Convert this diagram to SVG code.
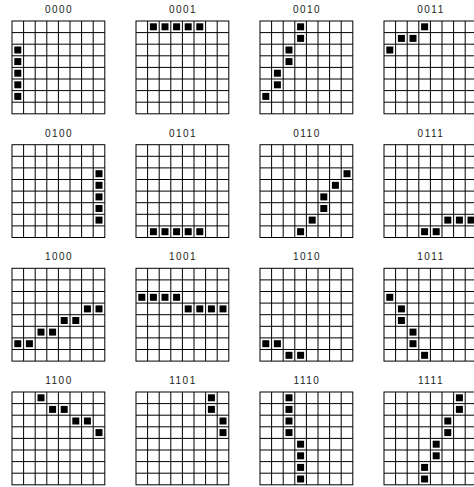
<svg xmlns="http://www.w3.org/2000/svg" xmlns:xlink="http://www.w3.org/1999/xlink" width="474" height="487" viewBox="0 0 474 487">
<style>
.grid{fill:#fff;stroke:#000;stroke-width:1}
.lbl{font-family:"Liberation Sans",Arial,Helvetica,sans-serif;font-size:10px;font-weight:normal;letter-spacing:1.5px;text-anchor:middle;fill:#222}
.sq{fill:#000}
</style>
<defs>
<g id="grid">
<rect class="grid" x="0" y="0" width="92.8" height="92.8"/>
<path class="grid" fill="none" d="M0 11.6H92.8M0 23.2H92.8M0 34.8H92.8M0 46.4H92.8M0 58H92.8M0 69.6H92.8M0 81.2H92.8M11.6 0V92.8M23.2 0V92.8M34.8 0V92.8M46.4 0V92.8M58 0V92.8M69.6 0V92.8M81.2 0V92.8"/>
</g>
<rect id="sq" class="sq" width="7" height="7"/>
</defs>
<rect width="474" height="487" fill="#fff"/>

<g id="n0000" transform="translate(12,21)">
<text class="lbl" x="47" y="-8">0000</text><use href="#grid"/>
<use href="#sq" x="2.3" y="25.5"/><use href="#sq" x="2.3" y="37.1"/><use href="#sq" x="2.3" y="48.7"/><use href="#sq" x="2.3" y="60.3"/><use href="#sq" x="2.3" y="71.9"/>
</g>
<g id="n0001" transform="translate(136,21)">
<text class="lbl" x="47" y="-8">0001</text><use href="#grid"/>
<use href="#sq" x="13.9" y="2.3"/><use href="#sq" x="25.5" y="2.3"/><use href="#sq" x="37.1" y="2.3"/><use href="#sq" x="48.7" y="2.3"/><use href="#sq" x="60.3" y="2.3"/>
</g>
<g id="n0010" transform="translate(260,21)">
<text class="lbl" x="47" y="-8">0010</text><use href="#grid"/>
<use href="#sq" x="37.1" y="2.3"/><use href="#sq" x="37.1" y="13.9"/><use href="#sq" x="25.5" y="25.5"/><use href="#sq" x="25.5" y="37.1"/><use href="#sq" x="13.9" y="48.7"/><use href="#sq" x="13.9" y="60.3"/><use href="#sq" x="2.3" y="71.9"/>
</g>
<g id="n0011" transform="translate(384,21)">
<text class="lbl" x="47" y="-8">0011</text><use href="#grid"/>
<use href="#sq" x="37.1" y="2.3"/><use href="#sq" x="13.9" y="13.9"/><use href="#sq" x="25.5" y="13.9"/><use href="#sq" x="2.3" y="25.5"/>
</g>

<g id="n0100" transform="translate(12,144.7)">
<text class="lbl" x="47" y="-8">0100</text><use href="#grid"/>
<use href="#sq" x="83.5" y="25.5"/><use href="#sq" x="83.5" y="37.1"/><use href="#sq" x="83.5" y="48.7"/><use href="#sq" x="83.5" y="60.3"/><use href="#sq" x="83.5" y="71.9"/>
</g>
<g id="n0101" transform="translate(136,144.7)">
<text class="lbl" x="47" y="-8">0101</text><use href="#grid"/>
<use href="#sq" x="13.9" y="83.5"/><use href="#sq" x="25.5" y="83.5"/><use href="#sq" x="37.1" y="83.5"/><use href="#sq" x="48.7" y="83.5"/><use href="#sq" x="60.3" y="83.5"/>
</g>
<g id="n0110" transform="translate(260,144.7)">
<text class="lbl" x="47" y="-8">0110</text><use href="#grid"/>
<use href="#sq" x="83.5" y="25.5"/><use href="#sq" x="71.9" y="37.1"/><use href="#sq" x="60.3" y="48.7"/><use href="#sq" x="60.3" y="60.3"/><use href="#sq" x="48.7" y="71.9"/><use href="#sq" x="37.1" y="83.5"/>
</g>
<g id="n0111" transform="translate(384,144.7)">
<text class="lbl" x="47" y="-8">0111</text><use href="#grid"/>
<use href="#sq" x="37.1" y="83.5"/><use href="#sq" x="48.7" y="83.5"/><use href="#sq" x="60.3" y="71.9"/><use href="#sq" x="71.9" y="71.9"/><use href="#sq" x="83.5" y="71.9"/>
</g>

<g id="n1000" transform="translate(12,268.3)">
<text class="lbl" x="47" y="-8">1000</text><use href="#grid"/>
<use href="#sq" x="2.3" y="71.9"/><use href="#sq" x="13.9" y="71.9"/><use href="#sq" x="25.5" y="60.3"/><use href="#sq" x="37.1" y="60.3"/><use href="#sq" x="48.7" y="48.7"/><use href="#sq" x="60.3" y="48.7"/><use href="#sq" x="71.9" y="37.1"/><use href="#sq" x="83.5" y="37.1"/>
</g>
<g id="n1001" transform="translate(136,268.3)">
<text class="lbl" x="47" y="-8">1001</text><use href="#grid"/>
<use href="#sq" x="2.3" y="25.5"/><use href="#sq" x="13.9" y="25.5"/><use href="#sq" x="25.5" y="25.5"/><use href="#sq" x="37.1" y="25.5"/><use href="#sq" x="48.7" y="37.1"/><use href="#sq" x="60.3" y="37.1"/><use href="#sq" x="71.9" y="37.1"/><use href="#sq" x="83.5" y="37.1"/>
</g>
<g id="n1010" transform="translate(260,268.3)">
<text class="lbl" x="47" y="-8">1010</text><use href="#grid"/>
<use href="#sq" x="2.3" y="71.9"/><use href="#sq" x="13.9" y="71.9"/><use href="#sq" x="25.5" y="83.5"/><use href="#sq" x="37.1" y="83.5"/>
</g>
<g id="n1011" transform="translate(384,268.3)">
<text class="lbl" x="47" y="-8">1011</text><use href="#grid"/>
<use href="#sq" x="2.3" y="25.5"/><use href="#sq" x="13.9" y="37.1"/><use href="#sq" x="13.9" y="48.7"/><use href="#sq" x="25.5" y="60.3"/><use href="#sq" x="25.5" y="71.9"/><use href="#sq" x="37.1" y="83.5"/>
</g>

<g id="n1100" transform="translate(12,392)">
<text class="lbl" x="47" y="-8">1100</text><use href="#grid"/>
<use href="#sq" x="25.5" y="2.3"/><use href="#sq" x="37.1" y="13.9"/><use href="#sq" x="48.7" y="13.9"/><use href="#sq" x="60.3" y="25.5"/><use href="#sq" x="71.9" y="25.5"/><use href="#sq" x="83.5" y="37.1"/>
</g>
<g id="n1101" transform="translate(136,392)">
<text class="lbl" x="47" y="-8">1101</text><use href="#grid"/>
<use href="#sq" x="71.9" y="2.3"/><use href="#sq" x="71.9" y="13.9"/><use href="#sq" x="83.5" y="25.5"/><use href="#sq" x="83.5" y="37.1"/>
</g>
<g id="n1110" transform="translate(260,392)">
<text class="lbl" x="47" y="-8">1110</text><use href="#grid"/>
<use href="#sq" x="25.5" y="2.3"/><use href="#sq" x="25.5" y="13.9"/><use href="#sq" x="25.5" y="25.5"/><use href="#sq" x="25.5" y="37.1"/><use href="#sq" x="37.1" y="48.7"/><use href="#sq" x="37.1" y="60.3"/><use href="#sq" x="37.1" y="71.9"/><use href="#sq" x="37.1" y="83.5"/>
</g>
<g id="n1111" transform="translate(384,392)">
<text class="lbl" x="47" y="-8">1111</text><use href="#grid"/>
<use href="#sq" x="71.9" y="2.3"/><use href="#sq" x="71.9" y="13.9"/><use href="#sq" x="60.3" y="25.5"/><use href="#sq" x="60.3" y="37.1"/><use href="#sq" x="48.7" y="48.7"/><use href="#sq" x="48.7" y="60.3"/><use href="#sq" x="37.1" y="71.9"/><use href="#sq" x="37.1" y="83.5"/>
</g>

<g id="connectors"></g>
</svg>
